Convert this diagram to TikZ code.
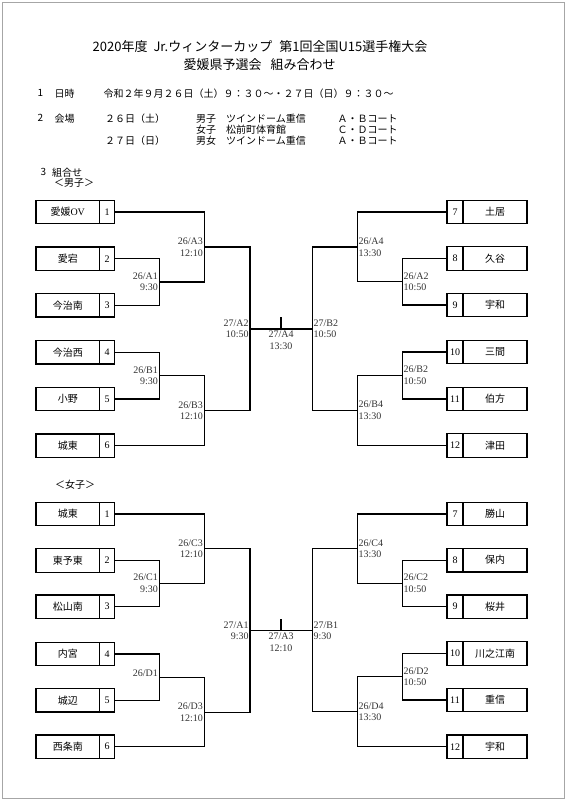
\documentclass[tikz,border=0pt]{standalone}
\usepackage{fontspec}
\setmainfont{Liberation Serif}
\newfontfamily\jp{Noto Sans CJK JP}
\newcommand\lteam[4]{\node[namebox] (#1n) at (67.75,#2) {#3}; \node[numbox] (#1) at (107,#2) {#4};}
\newcommand\rteam[4]{\node[numbox, minimum width=16pt] (#1) at (455,#2) {#4}; \node[namebox, minimum width=64pt] (#1n) at (495,#2) {#3};}
\tikzset{
  namebox/.style={draw, line width=1.3pt, minimum width=63.5pt, minimum height=23.4pt, inner sep=0pt, font=\jp\fontsize{10}{12}\selectfont},
  numbox/.style={draw, line width=1.3pt, minimum width=15pt, minimum height=23.4pt, inner sep=0pt, font=\fontsize{10}{12}\selectfont},
  conn/.style={line width=1.25pt},
  mlab/.style={font=\fontsize{10}{11.7}\selectfont, text=black!80, inner sep=1.2pt},
  hdr/.style={anchor=west, inner sep=0pt, font=\jp\fontsize{10}{12}\selectfont},
  ttl/.style={inner sep=0pt, font=\jp\fontsize{13}{15}\selectfont},
}
\begin{document}
\begin{tikzpicture}[x=1pt, y=-1pt]
\useasboundingbox (0,0) rectangle (566,800);
\draw[gray!70, line width=0.7pt] (2,2) rectangle (564,798);
% title
\node[ttl] (t1) at (260,46.7) {2020年度\hspace{6pt}Jr.ウィンターカップ\hspace{7pt}第1回全国U15選手権大会};
\node[ttl] (t2) at (259.7,64.3) {愛媛県予選会\hspace{9pt}組み合わせ};
% header
\node[hdr] (h1n) at (37.5,93.3) {1};
\node[hdr] (h1l) at (54.5,93.3) {日時};
\node[hdr] (h1t) at (103.5,93.3) {令和２年９月２６日（土）９：３０～・２７日（日）９：３０～};
\node[hdr] (h2n) at (37.5,118.3) {2};
\node[hdr] (h2l) at (54.5,118.3) {会場};
\node[hdr] (h2a) at (105,118.3) {２６日（土）};
\node[hdr] (h2b) at (196,118.3) {男子　ツインドーム重信};
\node[hdr] (h2c) at (337.5,118.3) {Ａ・Ｂコート};
\node[hdr] (h2d) at (196,129.7) {女子　松前町体育館};
\node[hdr] (h2e) at (337.5,129.7) {Ｃ・Ｄコート};
\node[hdr] (h2f) at (105,141) {２７日（日）};
\node[hdr] (h2g) at (196,141) {男女　ツインドーム重信};
\node[hdr] (h2h) at (337.5,141) {Ａ・Ｂコート};
\node[hdr] (h3n) at (40.5,172.3) {3};
\node[hdr] (h3l) at (52,172.3) {組合せ};
\node[hdr] (hm) at (54,183.3) {＜男子＞};
\node[hdr] (hf) at (55,485) {＜女子＞};
% ===== male =====
\lteam{m1}{212}{愛媛{\rmfamily OV}}{1}
\lteam{m2}{258.7}{愛宕}{2}
\lteam{m3}{305.3}{今治南}{3}
\lteam{m4}{352.3}{今治西}{4}
\lteam{m5}{399}{小野}{5}
\lteam{m6}{445.7}{城東}{6}
\rteam{m7}{212}{土居}{7}
\rteam{m8}{258.5}{久谷}{8}
\rteam{m9}{305}{宇和}{9}
\rteam{m10}{352}{三間}{10}
\rteam{m11}{399}{伯方}{11}
\rteam{m12}{445.5}{津田}{12}
\coordinate (mA1) at (159.3,281.9);
\coordinate (mA3) at (204.3,247);
\coordinate (mB1) at (159.3,375.7);
\coordinate (mB3) at (204.3,410.7);
\coordinate (mFL) at (250,328.9);
\coordinate (mA2) at (402.3,281.8);
\coordinate (mA4) at (357.3,247);
\coordinate (mB2) at (402.3,375.5);
\coordinate (mB4) at (357.3,410.4);
\coordinate (mFR) at (312.3,328.9);
\coordinate (mFT) at (281,317);
\coordinate (mFM) at (281,328.9);
\draw[conn] (m2.east) -| (mA1) |- (m3.east);
\draw[conn] (m1.east) -| (mA3) |- (mA1);
\draw[conn] (m4.east) -| (mB1) |- (m5.east);
\draw[conn] (m6.east) -| (mB3) |- (mB1);
\draw[conn] (mA3) -| (mFL) |- (mB3);
\draw[conn] (m8.west) -| (mA2) |- (m9.west);
\draw[conn] (m7.west) -| (mA4) |- (mA2);
\draw[conn] (m10.west) -| (mB2) |- (m11.west);
\draw[conn] (m12.west) -| (mB4) |- (mB2);
\draw[conn] (mA4) -| (mFR) |- (mB4);
\draw[conn] (mFL) -- (mFR);
\draw[conn] (mFT) -- (mFM);
\node[mlab, anchor=east, align=right] (lmA1) at (mA1) {26/A1\\9:30};
\node[mlab, anchor=east, align=right] (lmA3) at (mA3) {26/A3\\12:10};
\node[mlab, anchor=east, align=right] (lmB1) at (mB1) {26/B1\\9:30};
\node[mlab, anchor=east, align=right] (lmB3) at (mB3) {26/B3\\12:10};
\node[mlab, anchor=east, align=right] (lmFL) at (mFL) {27/A2\\10:50};
\node[mlab, anchor=west, align=left] (lmA2) at (mA2) {26/A2\\10:50};
\node[mlab, anchor=west, align=left] (lmA4) at (mA4) {26/A4\\13:30};
\node[mlab, anchor=west, align=left] (lmB2) at (mB2) {26/B2\\10:50};
\node[mlab, anchor=west, align=left] (lmB4) at (mB4) {26/B4\\13:30};
\node[mlab, anchor=west, align=left] (lmFR) at (mFR) {27/B2\\10:50};
\node[mlab, align=center] (lmF) at (281,340.2) {27/A4\\13:30};
% ===== female =====
\lteam{f1}{514}{城東}{1}
\lteam{f2}{560.5}{東予東}{2}
\lteam{f3}{606.7}{松山南}{3}
\lteam{f4}{654}{内宮}{4}
\lteam{f5}{700.3}{城辺}{5}
\lteam{f6}{746.7}{西条南}{6}
\rteam{f7}{514}{勝山}{7}
\rteam{f8}{560.2}{保内}{8}
\rteam{f9}{606.7}{桜井}{9}
\rteam{f10}{653.5}{川之江南}{10}
\rteam{f11}{700}{重信}{11}
\rteam{f12}{746.7}{宇和}{12}
\coordinate (fC1) at (159.3,583.6);
\coordinate (fC3) at (204.3,548.8);
\coordinate (fD1) at (159.3,677.2);
\coordinate (fD3) at (204.3,712.2);
\coordinate (fFL) at (250,630.7);
\coordinate (fC2) at (402.3,583.5);
\coordinate (fC4) at (357.3,548.8);
\coordinate (fD2) at (402.3,676.8);
\coordinate (fD4) at (357.3,711.8);
\coordinate (fFR) at (312.3,630.7);
\coordinate (fFT) at (281,619);
\coordinate (fFM) at (281,630.7);
\draw[conn] (f2.east) -| (fC1) |- (f3.east);
\draw[conn] (f1.east) -| (fC3) |- (fC1);
\draw[conn] (f4.east) -| (fD1) |- (f5.east);
\draw[conn] (f6.east) -| (fD3) |- (fD1);
\draw[conn] (fC3) -| (fFL) |- (fD3);
\draw[conn] (f8.west) -| (fC2) |- (f9.west);
\draw[conn] (f7.west) -| (fC4) |- (fC2);
\draw[conn] (f10.west) -| (fD2) |- (f11.west);
\draw[conn] (f12.west) -| (fD4) |- (fD2);
\draw[conn] (fC4) -| (fFR) |- (fD4);
\draw[conn] (fFL) -- (fFR);
\draw[conn] (fFT) -- (fFM);
\node[mlab, anchor=east, align=right] (lfC1) at (fC1) {26/C1\\9:30};
\node[mlab, anchor=east, align=right] (lfC3) at (fC3) {26/C3\\12:10};
\node[mlab, anchor=east] (lfD1) at (159.3,672.8) {26/D1};
\node[mlab, anchor=east, align=right] (lfD3) at (fD3) {26/D3\\12:10};
\node[mlab, anchor=east, align=right] (lfFL) at (fFL) {27/A1\\9:30};
\node[mlab, anchor=west, align=left] (lfC2) at (fC2) {26/C2\\10:50};
\node[mlab, anchor=west, align=left] (lfC4) at (fC4) {26/C4\\13:30};
\node[mlab, anchor=west, align=left] (lfD2) at (fD2) {26/D2\\10:50};
\node[mlab, anchor=west, align=left] (lfD4) at (fD4) {26/D4\\13:30};
\node[mlab, anchor=west, align=left] (lfFR) at (fFR) {27/B1\\9:30};
\node[mlab, align=center] (lfF) at (281,642.2) {27/A3\\12:10};
\end{tikzpicture}
\end{document}
